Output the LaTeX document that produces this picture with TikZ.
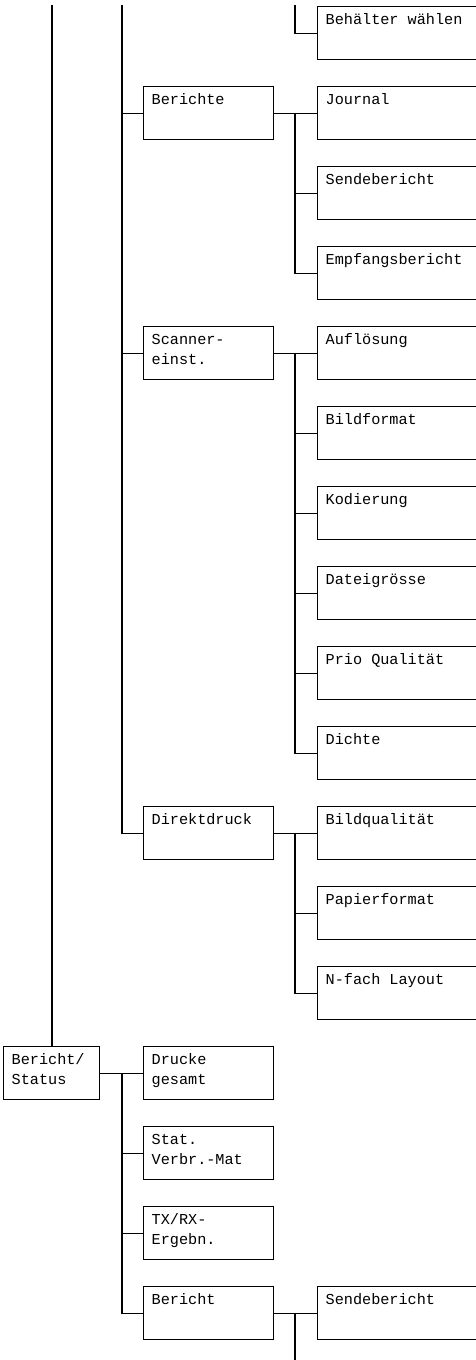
\documentclass[tikz,border=0pt]{standalone}
\usepackage{fontspec}
\setmonofont{Liberation Mono}
\usetikzlibrary{calc}

\begin{document}
\begin{tikzpicture}[x=1pt, y=-1pt, line width=1.3pt,
    main/.style = {draw, anchor=north west, inner xsep=8pt, inner ysep=4pt,
        text height=14pt, text depth=31pt,
        font=\ttfamily\fontsize{15.2}{20}\selectfont,
        execute at begin node={\spaceskip=9.12pt\relax}},
    root/.style = {main, text width=80pt},
    mid/.style = {main, text width=114pt},
    leaf/.style = {main, text width=154pt}]

    \useasboundingbox (0,0) rectangle (476,1360);
    \clip (0,0) rectangle (476,1360);

    \coordinate (top1) at (52, 5);
    \coordinate (top2) at (122, 5);
    \coordinate (top3) at (295, 5);
    \coordinate (bot3) at (295, 1360);

    \node [root] (status) at (3, 1046) {Bericht/\\Status};

    \node [mid] (berichte) at (143, 86) {Berichte};
    \node [mid] (scanner) at (143, 326) {Scanner-\\einst.};
    \node [mid] (direkt) at (143, 806) {Direktdruck};
    \node [mid] (drucke) at (143, 1046) {Drucke\\gesamt};
    \node [mid] (stat) at (143, 1126) {Stat.\\Verbr.-Mat};
    \node [mid] (txrx) at (143, 1206) {TX/RX-\\Ergebn.};
    \node [mid] (bericht) at (143, 1286) {Bericht};

    \node [leaf] (behaelter) at (317, 6) {Behälter wählen};
    \node [leaf] (journal) at (317, 86) {Journal};
    \node [leaf] (sende) at (317, 166) {Sendebericht};
    \node [leaf] (empfang) at (317, 246) {Empfangsbericht};
    \node [leaf] (aufl) at (317, 326) {Auflösung};
    \node [leaf] (bildf) at (317, 406) {Bildformat};
    \node [leaf] (kod) at (317, 486) {Kodierung};
    \node [leaf] (datei) at (317, 566) {Dateigrösse};
    \node [leaf] (prio) at (317, 646) {Prio Qualität};
    \node [leaf] (dichte) at (317, 726) {Dichte};
    \node [leaf] (bildq) at (317, 806) {Bildqualität};
    \node [leaf] (papier) at (317, 886) {Papierformat};
    \node [leaf] (nfach) at (317, 966) {N-fach Layout};
    \node [leaf] (sende2) at (317, 1286) {Sendebericht};

    % trunk lines from above
    \draw (top1) -- (top1 |- status.north);
    \draw (top2) |- (direkt.west);
    \draw (top3) |- (behaelter.west);
    \draw (berichte.west) -- (berichte.west -| top2);
    \draw (scanner.west) -- (scanner.west -| top2);

    % Berichte
    \draw (berichte.east) -- (journal.west);
    \draw (journal.west -| top3) |- (empfang.west);
    \draw (sende.west) -- (sende.west -| top3);

    % Scanner-einst.
    \draw (scanner.east) -- (aufl.west);
    \draw (aufl.west -| top3) |- (dichte.west);
    \draw (bildf.west) -- (bildf.west -| top3);
    \draw (kod.west) -- (kod.west -| top3);
    \draw (datei.west) -- (datei.west -| top3);
    \draw (prio.west) -- (prio.west -| top3);

    % Direktdruck
    \draw (direkt.east) -- (bildq.west);
    \draw (bildq.west -| top3) |- (nfach.west);
    \draw (papier.west) -- (papier.west -| top3);

    % Bericht/Status
    \draw (status.east) -- (drucke.west);
    \draw (drucke.west -| top2) |- (bericht.west);
    \draw (stat.west) -- (stat.west -| top2);
    \draw (txrx.west) -- (txrx.west -| top2);

    % Bericht
    \draw (bericht.east) -- (sende2.west);
    \draw (sende2.west -| top3) -- (bot3);

\end{tikzpicture}
\end{document}
